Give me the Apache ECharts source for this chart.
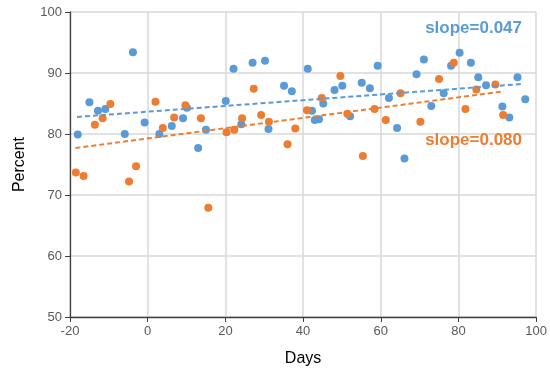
<!DOCTYPE html>
<html>
<head>
<meta charset="utf-8">
<script src="https://cdn.jsdelivr.net/npm/echarts@6/dist/echarts.min.js"></script>
<style>
  html, body { margin: 0; padding: 0; background: #fff; }
  #chart { width: 550px; height: 372px; }
</style>
</head>
<body>
<div id="chart"></div>
<script>
// ── data ──────────────────────────────────────────────────────────────
const blueX = [-18, -15, -12.8, -10.9, -5.9, -3.8, -0.8, 3.0, 6.2, 9.1, 10.1, 13.0, 15.0, 20.1, 22.1, 24.1,
  27.0, 30.2, 31.1, 35.1, 37.1, 41.2, 42.3, 43.0, 44.1, 45.2, 48.1, 50.1, 52.1, 55.1, 57.2, 59.2,
  62.1, 64.2, 66.1, 69.2, 71.1, 73.0, 76.2, 78.1, 80.3, 83.2, 85.1, 87.1, 91.3, 93.1, 95.2, 97.2];
const blueY = [79.9, 85.2, 83.8, 84.1, 80.0, 93.4, 81.9, 80.0, 81.3, 82.6, 84.3, 77.7, 80.7, 85.4, 90.7, 81.6,
  91.7, 92.0, 80.8, 87.9, 87.0, 90.7, 83.8, 82.3, 82.4, 85.0, 87.2, 87.9, 82.9, 88.4, 87.5, 91.2,
  85.9, 81.0, 76.0, 89.8, 92.2, 84.6, 86.7, 91.2, 93.3, 91.7, 89.3, 88.0, 84.5, 82.7, 89.3, 85.7];

const orangeX = [-18.5, -16.5, -13.6, -11.6, -9.6, -4.8, -3.0, 2.0, 3.9, 6.8, 9.7, 13.7, 15.6, 20.3, 22.3, 24.3,
  27.3, 29.2, 31.2, 36.0, 38.0, 41.0, 44.8, 49.6, 51.4, 55.4, 58.4, 61.3, 65.1, 70.2, 75.0, 78.8,
  81.8, 84.6, 89.5, 91.5];
const orangeY = [73.7, 73.1, 81.5, 82.6, 84.9, 72.2, 74.7, 85.3, 81.0, 82.7, 84.7, 82.6, 67.9, 80.3, 80.7, 82.6,
  87.4, 83.1, 82.0, 78.3, 80.9, 83.9, 85.9, 89.5, 83.3, 76.4, 84.1, 82.3, 86.7, 82.0, 89.0, 91.7,
  84.1, 87.3, 88.1, 83.1];

// trend line end points
const blueTrendX = [-18.2, 96.4];
const blueTrendY = [82.8, 88.2];
const orangeTrendX = [-18.6, 91.7];
const orangeTrendY = [77.7, 87.0];

const blueSlope = 'slope=0.047';
const orangeSlope = 'slope=0.080';

const blueClr = '#5B9BD5';
const orangeClr = '#ED7D31';

const zip = (xs, ys) => xs.map((x, i) => [x, ys[i]]);

// ── chart ─────────────────────────────────────────────────────────────
const chart = echarts.init(document.getElementById('chart'), null, { renderer: 'canvas' });
const font = 'Liberation Sans, Arial, sans-serif';
const gridClr = '#d9d9d9';
const axisClr = '#404040';
const lblClr = '#595959';

chart.setOption({
  backgroundColor: '#fff', animation: false,
  grid: { left: 70, right: 13, top: 12, bottom: 53 },
  xAxis: {
    type: 'value', min: -20, max: 100, interval: 20,
    name: 'Days', nameLocation: 'middle', nameGap: 34,
    nameTextStyle: { color: '#000', fontSize: 16, fontFamily: font },
    axisLine: { show: true, onZero: false, lineStyle: { color: axisClr, width: 1.3 } },
    axisTick: { show: true, length: 5, lineStyle: { color: axisClr } },
    axisLabel: { color: lblClr, fontSize: 13, fontFamily: font, margin: 8 },
    splitLine: { show: true, lineStyle: { color: gridClr, width: 1.5 } },
  },
  yAxis: {
    type: 'value', min: 50, max: 100, interval: 10,
    name: 'Percent', nameLocation: 'middle', nameGap: 42,
    nameTextStyle: { color: '#000', fontSize: 16, fontFamily: font },
    axisLine: { show: true, onZero: false, lineStyle: { color: axisClr, width: 1.3 } },
    axisTick: { show: true, length: 5, lineStyle: { color: axisClr } },
    axisLabel: { color: lblClr, fontSize: 13, fontFamily: font, margin: 8 },
    splitLine: { show: true, lineStyle: { color: gridClr, width: 1.5 } },
  },
  series: [
    {
      name: 'A', type: 'scatter', data: zip(blueX, blueY),
      symbolSize: 8, itemStyle: { color: blueClr, opacity: 1 }, z: 3,
    },
    {
      name: 'B', type: 'scatter', data: zip(orangeX, orangeY),
      symbolSize: 8, itemStyle: { color: orangeClr, opacity: 1 }, z: 3,
    },
    {
      name: 'A trend', type: 'line', data: zip(blueTrendX, blueTrendY),
      symbol: 'none', z: 4,
      lineStyle: { color: blueClr, width: 2, type: [5, 3] },
    },
    {
      name: 'B trend', type: 'line', data: zip(orangeTrendX, orangeTrendY),
      symbol: 'none', z: 4,
      lineStyle: { color: orangeClr, width: 2, type: [5, 3] },
    },
  ],
  graphic: [
    {
      type: 'text', right: 28, top: 20, z: 10,
      style: { text: blueSlope, fill: blueClr, font: 'bold 17px ' + font },
    },
    {
      type: 'text', right: 28, top: 132, z: 10,
      style: { text: orangeSlope, fill: orangeClr, font: 'bold 17px ' + font },
    },
  ],
});
</script>
</body>
</html>
